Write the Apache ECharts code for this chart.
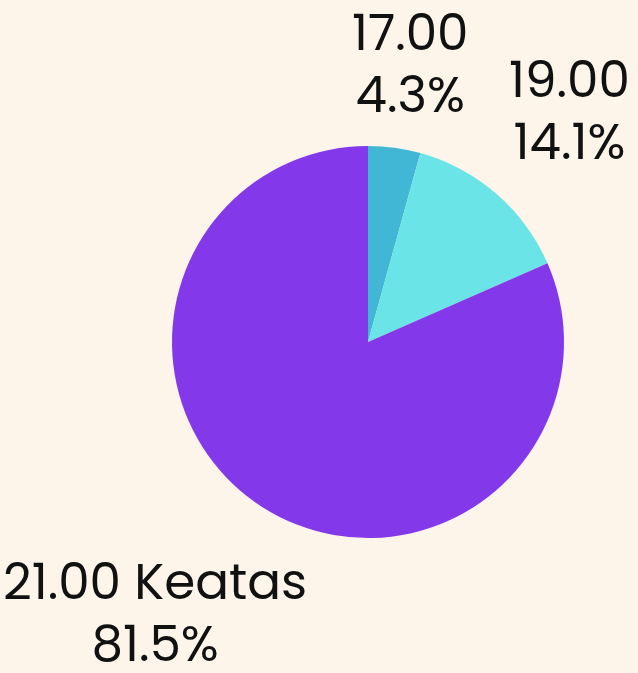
<!DOCTYPE html>
<html>
<head>
<meta charset="utf-8">
<script src="https://cdn.jsdelivr.net/npm/echarts@6/dist/echarts.min.js"></script>
<style>
html, body { margin: 0; padding: 0; background: #fdf4ea; }
#chart { width: 638px; height: 673px; }
</style>
</head>
<body>
<div id="chart"></div>
<script>
// slice names and their shares (%)
const categories = ['17.00', '19.00', '21.00 Keatas'];
const shares = [4.3, 14.1, 81.5];
const colors = ['#42b7d5', '#6ae4e6', '#8338ea'];

// how far each label sits from the pie (radial, then sideways)
const labelLen = [80, 104, 133];
const labelLen2 = [0, 0, 28];

const chart = echarts.init(document.getElementById('chart'));

const option = {
    backgroundColor: '#fdf4ea',
    series: [
        {
            type: 'pie',
            center: [368, 342],
            radius: 196,
            startAngle: 90,
            clockwise: true,
            avoidLabelOverlap: false,
            animation: false,
            label: {
                show: true,
                position: 'outside',
                // shares are already percentages, show them as given
                formatter: '{b}\n{c}%',
                fontFamily: 'Poppins, Inter, sans-serif',
                fontSize: 50,
                lineHeight: 62,
                color: '#111'
            },
            labelLine: { show: false },
            labelLayout: () => ({ align: 'center', verticalAlign: 'middle' }),
            data: categories.map((name, i) => ({
                name: name,
                value: shares[i],
                itemStyle: { color: colors[i] },
                labelLine: { show: false, length: labelLen[i], length2: labelLen2[i] }
            }))
        }
    ]
};

chart.setOption(option);
</script>
</body>
</html>
